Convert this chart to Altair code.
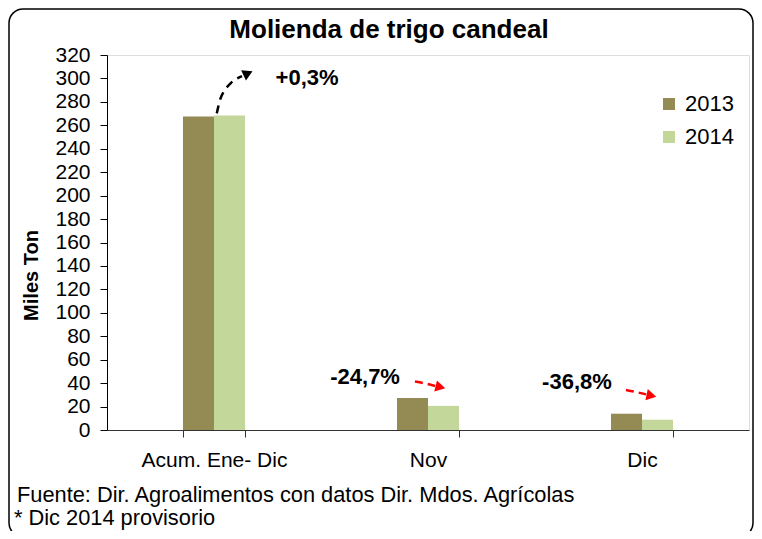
import altair as alt
import pandas as pd

# ---- data ----
categories = ["Acum. Ene- Dic", "Nov", "Dic"]
years = ["2013", "2014"]
v2013 = [267.6, 27.3, 13.9]
v2014 = [268.4, 20.6, 8.8]
colors = ["#948A54", "#C4D79B"]
y_ticks = [0, 20, 40, 60, 80, 100, 120, 140, 160, 180, 200, 220, 240, 260, 280, 300, 320]

chart_title = "Molienda de trigo candeal"
y_title = "Miles Ton"
notes = ["Fuente: Dir. Agroalimentos con datos Dir. Mdos. Agrícolas", "* Dic 2014 provisorio"]

# annotation labels (x in category units 0..3, y in Miles Ton)
ann_text = ["+0,3%", "-24,7%", "-36,8%"]
ann_x = [0.935, 1.206, 2.196]
ann_y = [300.4, 45.2, 41.0]

# dashed arrow paths
black_x = [0.513, 0.528, 0.551, 0.579, 0.631]
black_y = [270.2, 281.6, 290.1, 296.1, 302.0]
nov_x = [1.439, 1.486, 1.533]
nov_y = [41.4, 39.7, 37.6]
dic_x = [2.425, 2.472, 2.519]
dic_y = [34.1, 32.4, 30.4]
head_x = [0.659, 1.558, 2.544]
head_y = [304.4, 36.6, 29.3]
head_angle = [335, 14, 12]
head_color = ["black", "red", "red"]

W, H = 642, 375
FONT = "Liberation Sans"

df = pd.DataFrame({
    "cat": categories * 2,
    "year": [years[0]] * 3 + [years[1]] * 3,
    "value": v2013 + v2014,
})

yaxis = alt.Axis(values=y_ticks, grid=False, labelOverlap=False, labelBound=False,
                 labelFontSize=21, labelFont=FONT, labelColor="black",
                 tickSize=7, tickColor="black", domainColor="black",
                 labelPadding=10,
                 titleFontSize=20, titleFont=FONT, titleFontWeight="bold",
                 titleColor="black", titleAngle=270, titleX=-76, titleY=220,
                 titleAlign="center", titleBaseline="middle")
yenc = alt.Y("value:Q", title=y_title,
             scale=alt.Scale(domain=[0, 320], nice=False, zero=True),
             axis=yaxis)
xq = alt.Scale(domain=[0, 3], nice=False, zero=False)

bars = alt.Chart(df).mark_bar().encode(
    x=alt.X("cat:N", sort=categories, title=None,
            scale=alt.Scale(paddingInner=0.71, paddingOuter=0.355),
            axis=alt.Axis(labelAngle=0, labelFontSize=21, labelFont=FONT, labelColor="black",
                          tickBand="extent", tickSize=7, tickColor="#333333",
                          domainColor="#333333", labelPadding=12)),
    xOffset=alt.XOffset("year:N", sort=years,
                        scale=alt.Scale(paddingInner=0, paddingOuter=0)),
    y=yenc,
    color=alt.Color("year:N", scale=alt.Scale(domain=years, range=colors),
                    legend=alt.Legend(orient="none", legendX=551, legendY=38, title=None,
                                      symbolType="square", symbolSize=144,
                                      symbolStrokeWidth=0, labelFontSize=22,
                                      labelFont=FONT, labelColor="black",
                                      rowPadding=11, labelOffset=5, padding=0)),
)

arrow_df = pd.DataFrame({
    "arrow": ["b"] * len(black_x) + ["n"] * len(nov_x) + ["d"] * len(dic_x),
    "ord": list(range(len(black_x))) + list(range(len(nov_x))) + list(range(len(dic_x))),
    "x": black_x + nov_x + dic_x,
    "value": black_y + nov_y + dic_y,
})

black_line = alt.Chart(arrow_df[arrow_df["arrow"] == "b"]).mark_line(
    color="black", strokeWidth=2.5, strokeDash=[8, 6], interpolate="monotone"
).encode(x=alt.X("x:Q", scale=xq, axis=None), y=yenc, order="ord:Q")

red_line = alt.Chart(arrow_df[arrow_df["arrow"] != "b"]).mark_line(
    color="red", strokeWidth=2.5, strokeDash=[8, 5], interpolate="monotone"
).encode(x=alt.X("x:Q", scale=xq, axis=None), y=yenc, detail="arrow:N", order="ord:Q")

head_df = pd.DataFrame({"x": head_x, "value": head_y, "angle": head_angle, "c": head_color})
heads = alt.Chart(head_df).mark_point(shape="triangle-right", filled=True, size=130, opacity=1).encode(
    x=alt.X("x:Q", scale=xq, axis=None), y=yenc,
    angle=alt.Angle("angle:Q", scale=None),
    color=alt.Color("c:N", scale=None),
)

ann_df = pd.DataFrame({"x": ann_x, "value": ann_y, "t": ann_text})
ann = alt.Chart(ann_df).mark_text(fontSize=22, fontWeight="bold", font=FONT, color="black",
                                  align="center", baseline="middle").encode(
    x=alt.X("x:Q", scale=xq, axis=None), y=yenc, text="t:N")

one = pd.DataFrame({"a": [0]})
title_mark = alt.Chart(one).mark_text(fontSize=26, fontWeight="bold", font=FONT, color="black",
                                      align="center", baseline="middle").encode(
    x=alt.value(282), y=alt.value(-25), text=alt.value(chart_title))

note1 = alt.Chart(one).mark_text(fontSize=21.8, font=FONT, color="black",
                                 align="left", baseline="middle").encode(
    x=alt.value(-90), y=alt.value(440), text=alt.value(notes[0]))
note2 = alt.Chart(one).mark_text(fontSize=21.8, font=FONT, color="black",
                                 align="left", baseline="middle").encode(
    x=alt.value(-93), y=alt.value(463), text=alt.value(notes[1]))

frame = alt.Chart(one).mark_rect(fillOpacity=0, stroke="black", strokeWidth=1.5,
                                 cornerRadius=14).encode(
    x=alt.value(-98), x2=alt.value(646), y=alt.value(-46), y2=alt.value(482))

chart = alt.layer(
    bars, black_line, red_line, heads, ann, title_mark, note1, note2, frame
).resolve_scale(x="independent", color="independent").properties(
    width=W, height=H,
    autosize=alt.AutoSizeParams(type="none"),
    padding={"left": 99, "top": 47, "right": 5, "bottom": 101},
).configure_view(stroke="#A0A0A0", strokeWidth=1.5).configure(font=FONT)

chart.save("out.html", embed_options={"renderer": "svg", "actions": False})
